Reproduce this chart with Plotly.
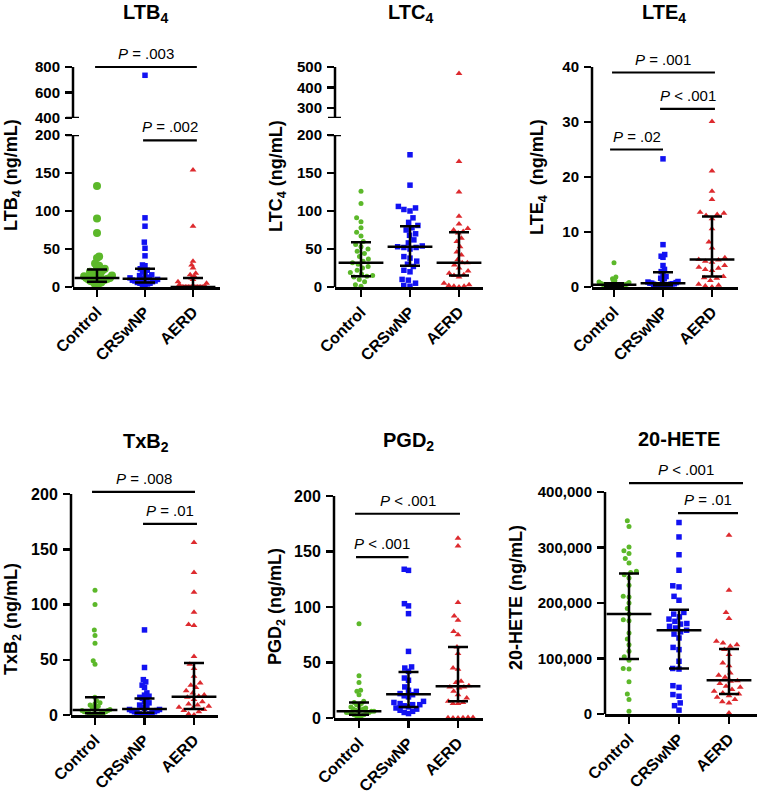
import math
import plotly.graph_objects as go

W, H = 759, 795
FONT = "Arial, Liberation Sans, sans-serif"

# ------------------------------------------------------------------ data
categories = ["Control", "CRSwNP", "AERD"]

ltb4_control = [133, 90, 71, 40, 38, 31, 28, 26, 24, 22, 20, 19, 18, 17, 16, 15, 14, 13, 12, 12,
                11, 10, 10, 9, 8, 7, 6, 5, 4, 2]
ltb4_crswnp = [735, 91, 80, 59, 51, 41, 29, 28, 24, 22, 20, 18, 16, 15, 13, 12, 12, 11, 10, 10,
               9, 8, 8, 7, 6, 5, 5, 4, 3, 2]
ltb4_aerd = [154, 80, 34, 29, 25, 18, 16, 14, 12, 10, 7, 5, 3, 1, 0, 0, 0, 0, 0, 0,
             0, 0, 0, 0, 0, 0, 0, 0, 0, 0]
ltb4_median = [12, 11, 0]
ltb4_q1 = [7, 6, 0]
ltb4_q3 = [23, 24, 12]

ltc4_control = [126, 110, 91, 86, 78, 72, 67, 60, 56, 53, 50, 47, 44, 40, 37, 34, 32, 30, 27, 25,
                22, 19, 17, 15, 14, 13, 10, 7, 3, 1]
ltc4_crswnp = [174, 134, 106, 104, 102, 100, 91, 85, 81, 78, 75, 70, 68, 62, 58, 54, 53, 52, 52, 50,
               40, 38, 34, 30, 27, 22, 20, 10, 9, 5, 2, 1]
ltc4_aerd = [468, 165, 125, 93, 83, 77, 75, 73, 71, 64, 60, 53, 46, 42, 36, 32, 32, 29, 25, 21,
             18, 16, 15, 13, 5, 3, 2, 1, 1, 0]
ltc4_median = [32, 53, 32]
ltc4_q1 = [14, 28, 15]
ltc4_q3 = [59, 80, 72]

lte4_control = [4.4, 1.8, 1.5, 1.2, 1.0, 0.9, 0.8, 0.7, 0.6, 0.6, 0.5, 0.5, 0.4, 0.4, 0.4, 0.3,
                0.3, 0.3, 0.3, 0.2, 0.2, 0.2, 0.2, 0.1, 0.1, 0.1, 0.1, 0.1, 0.05, 0.0]
lte4_crswnp = [23.3, 7.7, 5.9, 5.6, 5.4, 3.9, 3.2, 2.8, 2.5, 1.9, 1.6, 1.5, 1.2, 1.0, 0.9, 0.8,
               0.7, 0.7, 0.6, 0.6, 0.5, 0.5, 0.4, 0.4, 0.3, 0.3, 0.2, 0.2, 0.1, 0.1]
lte4_aerd = [30.1, 21.1, 17.4, 15.9, 13.6, 13.4, 13.2, 13.0, 12.4, 10.6, 8.2, 7.1, 5.3, 5.0, 4.9,
             4.7, 4.5, 3.9, 3.6, 3.4, 3.2, 3.0, 1.9, 1.7, 1.6, 1.2, 0.5, 0.3, 0.2, 0.0]
lte4_median = [0.4, 0.7, 5.0]
lte4_q1 = [0.2, 0.3, 1.9]
lte4_q3 = [0.7, 2.7, 12.8]

txb2_control = [113, 100, 77, 72, 65, 49, 46, 16, 13, 11, 10, 9, 8, 7, 6, 5, 5, 4, 4, 3,
                3, 3, 2, 2, 2, 1, 1, 1, 0.5, 0.2]
txb2_crswnp = [77, 43, 32, 30, 27, 25, 20, 18, 17, 16, 15, 14, 12, 11, 9, 8, 7, 6, 5, 5,
               4, 4, 3, 3, 2, 2, 1, 1, 0.5, 0.2, 0.1]
txb2_aerd = [156, 129, 111, 93, 82, 81, 53, 46, 42, 35, 29, 27, 25, 22, 20, 18, 17, 16, 14, 12,
             10, 9, 8, 7, 6, 5, 4, 3, 1, 0]
txb2_median = [4.5, 5.4, 16.6]
txb2_q1 = [1.5, 2.0, 5.5]
txb2_q3 = [16, 15, 47]

pgd2_control = [85, 38, 32, 25, 24, 21, 15, 14, 13, 12, 11, 10, 9, 8, 8, 7, 7, 6, 6, 6,
                5, 5, 5, 4, 4, 3, 3, 2, 2, 1]
pgd2_crswnp = [134, 133, 103, 101, 94, 60, 46, 45, 42, 36, 34, 28, 25, 24, 22, 21, 20, 19, 15, 14,
               13, 12, 12, 11, 10, 9, 8, 7, 6, 5, 4]
pgd2_aerd = [162, 155, 104, 92, 88, 78, 75, 64, 58, 45, 44, 33, 32, 29, 28, 28, 27, 24, 21, 18,
             15, 14, 13, 13, 0.5, 0.5, 0.3, 0.2, 0.1, 0]
pgd2_median = [6, 21.5, 28.5]
pgd2_q1 = [3, 10, 15]
pgd2_q3 = [14, 41.5, 64]

hete_control = [348000, 338000, 301000, 294000, 289000, 280000, 272000, 257000, 255000, 251000,
                245000, 232000, 212000, 211000, 200000, 190000, 180000, 170000, 168000, 146000,
                135000, 125000, 113000, 103000, 97000, 82000, 81000, 58000, 36000, 26000, 5000]
hete_crswnp = [345000, 319000, 287000, 259000, 231000, 229000, 212000, 205000, 183000, 180000,
               175000, 171000, 167000, 163000, 162000, 158000, 155000, 151000, 148000, 144000,
               137000, 120000, 116000, 95000, 82000, 81000, 51000, 48000, 35000, 32000, 20000,
               15000, 7000]
hete_aerd = [322000, 223000, 183000, 172000, 131000, 128000, 125000, 122000, 116000, 107000,
             92000, 87000, 74000, 70000, 66000, 60000, 59000, 55000, 50000, 48000, 44000, 41000,
             38000, 36000, 33000, 30000, 26000, 22000, 20000, 2000]
hete_median = [180000, 151000, 61000]
hete_q1 = [99000, 82000, 36000]
hete_q3 = [253000, 188000, 117000]

# tick labels
ltb4_ticks = [0, 50, 100, 150, 200]
ltb4_upper_ticks = [400, 600, 800]
ltc4_ticks = [0, 50, 100, 150, 200]
ltc4_upper_ticks = [300, 400, 500]
lte4_ticks = [0, 10, 20, 30, 40]
txb2_ticks = [0, 50, 100, 150, 200]
pgd2_ticks = [0, 50, 100, 150, 200]
hete_ticks = [0, 100000, 200000, 300000, 400000]
hete_ticktext = ["0", "100,000", "200,000", "300,000", "400,000"]

# significance brackets: (x start, x end, y level, label, on upper axis?)
ltb4_brackets = [(-0.04, 2.08, 800, "<i>P</i> = .003", True),
                 (0.96, 2.08, 193, "<i>P</i> = .002", False)]
ltc4_brackets = []
lte4_brackets = [(-0.04, 2.06, 39, "<i>P</i> = .001", False),
                 (0.94, 2.06, 32.4, "<i>P</i> < .001", False),
                 (-0.08, 1.0, 25, "<i>P</i> = .02", False)]
txb2_brackets = [(-0.06, 2.02, 202, "<i>P</i> = .008", False),
                 (0.97, 2.06, 173, "<i>P</i> = .01", False)]
pgd2_brackets = [(-0.08, 2.04, 184, "<i>P</i> < .001", False),
                 (-0.06, 1.0, 145, "<i>P</i> < .001", False)]
hete_brackets = [(0.0, 2.28, 416000, "<i>P</i> < .001", False),
                 (0.98, 2.18, 362000, "<i>P</i> = .01", False)]

# ------------------------------------------------------------------ style / layout
colors = ["#5cb82a", "#1212f2", "#dd2a2e"]
symbols = ["circle", "square", "triangle-up"]
sizes = [5, 5.5, 6]

panels = [
    dict(title="LTB<sub>4</sub>", ytitle="LTB<sub>4</sub> (ng/mL)",
         groups=[ltb4_control, ltb4_crswnp, ltb4_aerd], med=ltb4_median, q1=ltb4_q1, q3=ltb4_q3,
         ticks=ltb4_ticks, ticktext=None, brackets=ltb4_brackets,
         xl=73, xr=220, c0=97, cs=48, ymap=((287, 0), (135, 200)), yrange=[0, 200], ymax=200,
         upper=dict(ticks=ltb4_upper_ticks, ymap=((118, 400), (67, 800)), yrange=[400, 840],
                    ymin=400, ymax=800),
         title_xy=(145, 14), ytitle_xy=(13, 175), size0=8, fs=15),
    dict(title="LTC<sub>4</sub>", ytitle="LTC<sub>4</sub> (ng/mL)",
         groups=[ltc4_control, ltc4_crswnp, ltc4_aerd], med=ltc4_median, q1=ltc4_q1, q3=ltc4_q3,
         ticks=ltc4_ticks, ticktext=None, brackets=ltc4_brackets,
         xl=335, xr=483, c0=361, cs=49, ymap=((287, 0), (135, 200)), yrange=[0, 200], ymax=200,
         upper=dict(ticks=ltc4_upper_ticks, ymap=((118, 250), (67, 500)), yrange=[250, 500],
                    ymin=250, ymax=500),
         title_xy=(410, 14), ytitle_xy=(278, 176), size0=None, fs=15),
    dict(title="LTE<sub>4</sub>", ytitle="LTE<sub>4</sub>\u00a0 (ng/mL)",
         groups=[lte4_control, lte4_crswnp, lte4_aerd], med=lte4_median, q1=lte4_q1, q3=lte4_q3,
         ticks=lte4_ticks, ticktext=None, brackets=lte4_brackets,
         xl=592, xr=738, c0=614, cs=49, ymap=((287, 0), (67, 40)), yrange=[0, 41.5], ymax=40,
         upper=None, title_xy=(664, 14), ytitle_xy=(539, 177), size0=None, fs=15),
    dict(title="TxB<sub>2</sub>", ytitle="TxB<sub>2</sub> (ng/mL)",
         groups=[txb2_control, txb2_crswnp, txb2_aerd], med=txb2_median, q1=txb2_q1, q3=txb2_q3,
         ticks=txb2_ticks, ticktext=None, brackets=txb2_brackets,
         xl=71, xr=218, c0=95, cs=49.5, ymap=((715, 0), (494, 200)), yrange=[0, 206], ymax=200,
         upper=None, title_xy=(146, 442), ytitle_xy=(12, 619), size0=None, fs=16),
    dict(title="PGD<sub>2</sub>", ytitle="PGD<sub>2</sub> (ng/mL)",
         groups=[pgd2_control, pgd2_crswnp, pgd2_aerd], med=pgd2_median, q1=pgd2_q1, q3=pgd2_q3,
         ticks=pgd2_ticks, ticktext=None, brackets=pgd2_brackets,
         xl=334, xr=483, c0=359, cs=49.5, ymap=((718, 0), (496, 200)), yrange=[0, 200], ymax=200,
         upper=None, title_xy=(409, 441), ytitle_xy=(276, 607), size0=None, fs=16),
    dict(title="20-HETE", ytitle="20-HETE (ng/mL)",
         groups=[hete_control, hete_crswnp, hete_aerd], med=hete_median, q1=hete_q1, q3=hete_q3,
         ticks=hete_ticks, ticktext=hete_ticktext, brackets=hete_brackets,
         xl=605, xr=757, c0=629, cs=50, ymap=((714, 0), (492, 400000)), yrange=[0, 420000],
         ymax=400000, upper=None, title_xy=(679, 439), ytitle_xy=(516, 598), size0=None, fs=15),
]


def px_of(ymap, v):
    (p0, v0), (p1, v1) = ymap
    return p0 + (v - v0) * (p1 - p0) / (v1 - v0)


def domain_for(ymap, yrange):
    return [1 - px_of(ymap, yrange[0]) / H, 1 - px_of(ymap, yrange[1]) / H]


def swarm_offsets(values, py_per_unit, px_per_cat, diam, max_half=15.0):
    n = len(values)
    order = sorted(range(n), key=lambda i: values[i])
    placed = []
    offs = [0.0] * n
    for i in order:
        y = values[i] * py_per_unit
        cands = [0.0]
        for (qx, qy) in placed:
            dy = abs(y - qy)
            if dy < diam:
                dx = math.sqrt(diam * diam - dy * dy)
                cands += [qx - dx, qx + dx]
        cands.sort(key=lambda c: (abs(c), c))
        chosen = cands[-1]
        for c in cands:
            if all((c - qx) ** 2 + (y - qy) ** 2 >= diam * diam - 1e-6 for qx, qy in placed):
                chosen = c
                break
        placed.append((chosen, y))
        offs[i] = chosen
    m = max(abs(o) for o in offs)
    scale = min(1.0, max_half / m) if m > 0 else 1.0
    return [o * scale / px_per_cat for o in offs]


fig = go.Figure()
layout = dict(template="none", width=W, height=H, margin=dict(l=0, r=0, t=0, b=0, pad=0),
              autosize=False, plot_bgcolor="white", paper_bgcolor="white", showlegend=False,
              hovermode=False)
shapes, annotations = [], []
bold = lambda s: dict(family=FONT, size=s, color="black", weight="bold")

upper_ids = {0: 7, 1: 8}

for k, p in enumerate(panels):
    n = k + 1
    xn = "x" if n == 1 else f"x{n}"
    yn = "y" if n == 1 else f"y{n}"
    xkey = "xaxis" if n == 1 else f"xaxis{n}"
    ykey = "yaxis" if n == 1 else f"yaxis{n}"
    wpx = p["xr"] - p["xl"]
    xr0 = (p["xl"] - p["c0"]) / p["cs"]
    xr1 = (p["xr"] - p["c0"]) / p["cs"]
    layout[xkey] = dict(domain=[p["xl"] / W, p["xr"] / W], range=[xr0, xr1], anchor=yn,
                        automargin=False,
                        tickvals=[0, 1, 2], ticktext=categories, tickangle=-45,
                        showline=True, linecolor="black", linewidth=2.5, ticks="outside",
                        ticklen=7, tickwidth=2.5, tickcolor="black", tickfont=bold(16),
                        showgrid=False, zeroline=False, fixedrange=True)
    layout[ykey] = dict(domain=domain_for(p["ymap"], p["yrange"]), range=p["yrange"], anchor=xn,
                        automargin=False,
                        tickvals=p["ticks"], ticktext=p["ticktext"] or [str(t) for t in p["ticks"]],
                        showline=False, ticks="outside", ticklen=7, tickwidth=2.5,
                        tickcolor="black", tickfont=bold(p["fs"]), showgrid=False,
                        zeroline=False, fixedrange=True, ticklabelstandoff=2)
    shapes.append(dict(type="line", xref=f"{xn} domain", x0=0, x1=0, yref=yn, y0=0, y1=p["ymax"],
                       line=dict(color="black", width=2.5)))
    uy = None
    if p["upper"]:
        u = p["upper"]
        uid = upper_ids[k]
        uy = f"y{uid}"
        layout[f"yaxis{uid}"] = dict(domain=domain_for(u["ymap"], u["yrange"]), range=u["yrange"],
                                     anchor=xn, automargin=False, tickvals=u["ticks"],
                                     ticktext=[str(t) for t in u["ticks"]], showline=False,
                                     ticks="outside", ticklen=7, tickwidth=2.5, tickcolor="black",
                                     tickfont=bold(p["fs"]), showgrid=False, zeroline=False,
                                     fixedrange=True, ticklabelstandoff=2)
        shapes.append(dict(type="line", xref=f"{xn} domain", x0=0, x1=0, yref=uy,
                           y0=u["ymin"], y1=u["ymax"], line=dict(color="black", width=2.5)))
        # break caps
        for yv, yr in ((p["ymax"], yn), (u["ymin"], uy)):
            shapes.append(dict(type="line", xref=f"{xn} domain", x0=-7 / wpx, x1=6 / wpx,
                               yref=yr, y0=yv, y1=yv, line=dict(color="black", width=2.5)))
    # points
    (p0, v0), (p1, v1) = p["ymap"]
    py_unit = abs(p1 - p0) / abs(v1 - v0)
    for g, vals in enumerate(p["groups"]):
        size = p["size0"] if (g == 0 and p["size0"]) else sizes[g]
        offs = swarm_offsets(vals, py_unit, p["cs"], size + 0.8)
        lo_x = [g + o for o, v in zip(offs, vals) if not (uy and v > p["ymax"])]
        lo_y = [v for v in vals if not (uy and v > p["ymax"])]
        fig.add_trace(go.Scatter(x=lo_x, y=lo_y, xaxis=xn, yaxis=yn, mode="markers",
                                 cliponaxis=False,
                                 marker=dict(symbol=symbols[g], size=size, color=colors[g],
                                             line=dict(width=0))))
        if uy:
            hi_x = [g + o for o, v in zip(offs, vals) if v > p["ymax"]]
            hi_y = [v for v in vals if v > p["ymax"]]
            if hi_y:
                fig.add_trace(go.Scatter(x=hi_x, y=hi_y, xaxis=xn, yaxis=uy, mode="markers",
                                         cliponaxis=False,
                                         marker=dict(symbol=symbols[g], size=size,
                                                     color=colors[g], line=dict(width=0))))
    # median + IQR
    fig.add_trace(go.Scatter(
        x=[0, 1, 2], y=p["med"], xaxis=xn, yaxis=yn, mode="markers", cliponaxis=False,
        marker=dict(symbol="line-ew", size=32, color="black", line=dict(width=2.5, color="black")),
        error_y=dict(type="data", symmetric=False,
                     array=[b - m for b, m in zip(p["q3"], p["med"])],
                     arrayminus=[m - a for a, m in zip(p["q1"], p["med"])],
                     width=10, thickness=2.5, color="black")))
    # brackets
    for (bx0, bx1, by, label, on_upper) in p["brackets"]:
        yr = uy if on_upper else yn
        shapes.append(dict(type="line", xref=xn, yref=yr, x0=bx0, x1=bx1, y0=by, y1=by,
                           line=dict(color="black", width=2.2)))
        annotations.append(dict(x=(bx0 + bx1) / 2, y=by, xref=xn, yref=yr, text=label,
                                showarrow=False, yanchor="bottom", yshift=3,
                                font=dict(family=FONT, size=15, color="black")))
    # titles
    tx, ty = p["title_xy"]
    annotations.append(dict(x=tx / W, y=1 - ty / H, xref="paper", yref="paper", text=p["title"],
                            showarrow=False, xanchor="center", yanchor="middle", font=bold(20)))
    ax_, ay_ = p["ytitle_xy"]
    annotations.append(dict(x=ax_ / W, y=1 - ay_ / H, xref="paper", yref="paper",
                            text=p["ytitle"], showarrow=False, textangle=-90, xanchor="center",
                            yanchor="middle", font=bold(18)))

layout["shapes"] = shapes
layout["annotations"] = annotations
fig.update_layout(**layout)
fig.write_html("out.html", config={"displayModeBar": False, "staticPlot": True},
               post_script="document.body.style.margin='0';document.body.style.padding='0';")
